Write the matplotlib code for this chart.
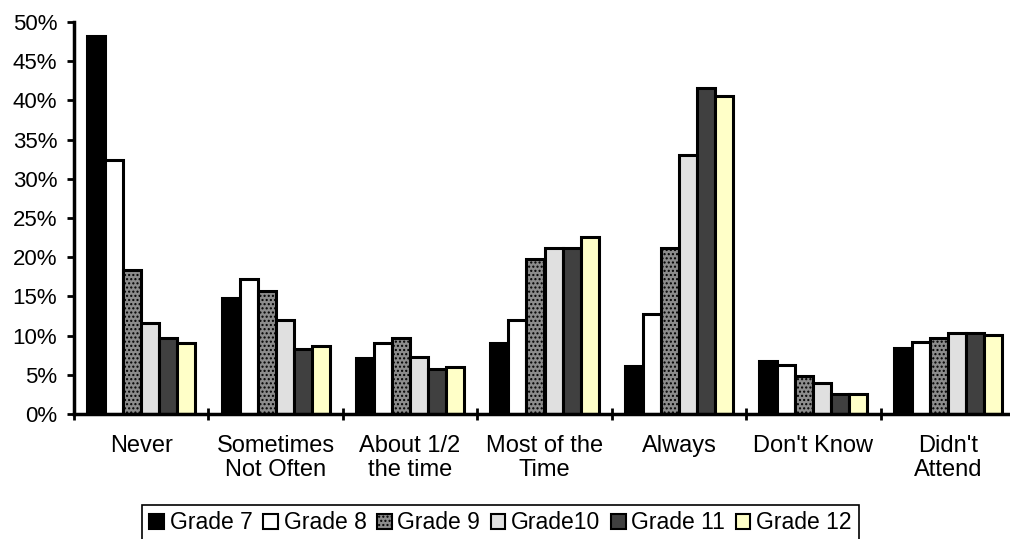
import matplotlib.pyplot as plt
from matplotlib.ticker import PercentFormatter, FixedLocator
import numpy as np

plt.rcParams['font.family'] = ['Liberation Sans', 'DejaVu Sans']
plt.rcParams['hatch.color'] = 'white'
plt.rcParams['hatch.linewidth'] = 1.0

categories = ['Never', 'Sometimes\nNot Often', 'About 1/2\nthe time', 'Most of the\nTime',
              'Always', "Don't Know", "Didn't\nAttend"]
grades = ['Grade 7', 'Grade 8', 'Grade 9', 'Grade10', 'Grade 11', 'Grade 12']

grade7 = [48.2, 14.8, 7.1, 9.1, 6.1, 6.7, 8.4]
grade8 = [32.4, 17.2, 9.0, 12.0, 12.8, 6.3, 9.2]
grade9 = [18.4, 15.7, 9.7, 19.8, 21.2, 4.9, 9.7]
grade10 = [11.6, 12.0, 7.3, 21.2, 33.0, 4.0, 10.3]
grade11 = [9.7, 8.3, 5.7, 21.2, 41.6, 2.6, 10.3]
grade12 = [9.0, 8.7, 6.0, 22.6, 40.6, 2.6, 10.1]
series = [grade7, grade8, grade9, grade10, grade11, grade12]

colors = ['#000000', '#ffffff', '#8c8c8c', '#e0e0e0', '#404040', '#ffffc8']
hatches = [None, None, '....', None, None, None]

fig = plt.figure(figsize=(10.1, 5.39), dpi=100)
ax = fig.add_axes([74 / 1010, 1 - 414 / 539, 941 / 1010, 392 / 539])

x = np.arange(len(categories))
w = 0.134
for i, (vals, c, h) in enumerate(zip(series, colors, hatches)):
    ax.bar(x + (i - 2.5) * w, vals, w, color=c, edgecolor='black', linewidth=2.2,
           hatch=h, label=grades[i])

ax.set_xlim(-0.5, 6.5)
ax.set_ylim(0, 50)
ax.yaxis.set_major_locator(FixedLocator(np.arange(0, 51, 5)))
ax.yaxis.set_major_formatter(PercentFormatter(decimals=0))

ax.set_xticks(np.arange(-0.5, 7, 1))
ax.set_xticklabels([])
ax.set_xticks(x, minor=True)
ax.set_xticklabels(categories, minor=True, linespacing=1.1)
ax.tick_params(axis='x', which='major', direction='inout', length=9, width=2)
ax.tick_params(axis='x', which='minor', length=0, pad=15, labelsize=17)
ax.tick_params(axis='y', direction='out', length=5, width=2, labelsize=16, pad=7)

for s in ['top', 'right']:
    ax.spines[s].set_visible(False)
for s in ['left', 'bottom']:
    ax.spines[s].set_linewidth(2.5)
ax.spines['bottom'].set_clip_on(False)

leg = fig.legend(loc='upper center', bbox_to_anchor=(0.4955, 0.064), ncol=6, fontsize=16.5,
                 handlelength=0.65, handleheight=0.65, handletextpad=0.25, columnspacing=0.45,
                 fancybox=False, edgecolor='black', framealpha=1, borderpad=0.3,
                 borderaxespad=0)
leg.get_frame().set_linewidth(1.2)
for p in leg.get_patches():
    p.set_linewidth(1.5)

fig.savefig('out.png', dpi=100)
